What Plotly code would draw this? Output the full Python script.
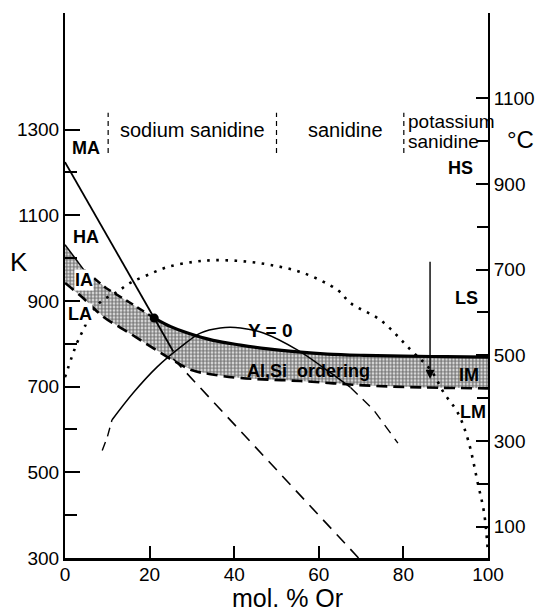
import plotly.graph_objects as go

# ---------------- data ----------------
# upper boundary of Al,Si ordering band (mol.% Or, K)
UPPER_X = [0, 4.5, 9.7, 15.2, 21.1, 25.0, 29.0, 35.0, 41.5, 48.0, 55.0, 62.0, 70.6, 80.0, 90.0, 100.0]
UPPER_K = [1031, 972, 930, 897, 860, 840, 825, 808, 797, 788, 781, 776, 773, 771, 770, 769]
# lower boundary (LA / LM dashed)
LOWER_X = [0, 4.0, 9.2, 14.9, 19.7, 25.4, 30.1, 34.4, 41.5, 55.7, 70.6, 85.0, 100.0]
LOWER_K = [942, 909, 862, 827, 797, 762, 738, 729, 720, 713, 703, 698, 696]
# MA / HA inversion line
MA_X = [0, 25.6]
MA_K = [1224, 782]
# dashed continuation of the inversion
INV_X = [25.6, 69.4]
INV_K = [765, 300]
# triple point
DOT_X = [21.1]
DOT_K = [860]
# dotted solvus
SOLVUS_X = [0, 2.8, 4.3, 6.6, 9.0, 12.3, 15.4, 19.4, 24.2, 30.3, 35.1, 41.5, 48.6, 56.4,
            64.5, 67.5, 74.6, 81.8, 86.5, 89.6, 92.9, 95.3, 97.6, 99.1, 100.0]
SOLVUS_K = [722, 801, 832, 879, 902, 921, 942, 960, 979, 991, 995, 993, 984, 965,
            925, 895, 855, 785, 738, 685, 638, 575, 474, 404, 311]
# thin solvus curve (gamma = 0)
GAMMA_X = [8.8, 10.0, 11.1, 16.1, 21.8, 27.3, 32.0, 36.7, 41.5, 46.9, 55.0, 62.8, 67.5, 73.0, 78.7]
GAMMA_K = [551, 582, 622, 685, 746, 792, 825, 837, 837, 825, 785, 732, 698, 645, 568]
# vertical arrow
ARROW_X = 86.3
ARROW_FROM_K = 995
ARROW_TO_K = 718
# field separators at top
SEP_X = [10.2, 50.0, 80.1]
SEP_K = [1245, 1339]
# ticks
K_TICKS = [300, 500, 700, 900, 1100, 1300]
K_MINOR = [400, 600, 800, 1000, 1200]
C_TICKS = [100, 300, 500, 700, 900, 1100]
C_MINOR = [200, 400, 600, 800, 1000]
X_TICKS = [0, 20, 40, 60, 80, 100]

K_RANGE = [300, 1572]
OFFSET = 273.15

BOLD = "Liberation Sans, Arial, Helvetica"
REG = "Liberation Sans, Arial, Helvetica"

fig = go.Figure()

# stippled band
band_x = UPPER_X + LOWER_X[::-1]
band_y = UPPER_K + LOWER_K[::-1]
fig.add_trace(go.Scatter(x=band_x, y=band_y, mode="lines", fill="toself",
                         line=dict(width=0, color="rgba(0,0,0,0)"),
                         fillcolor="white",
                         fillpattern=dict(shape=".", size=3.5, solidity=0.7,
                                          fgcolor="black", bgcolor="white"),
                         hoverinfo="skip"))

# upper boundary pieces
i1 = UPPER_X.index(4.5)
i2 = UPPER_X.index(21.1)
fig.add_trace(go.Scatter(x=UPPER_X[:i1 + 1], y=UPPER_K[:i1 + 1], mode="lines",
                         line=dict(color="black", width=1.5)))
fig.add_trace(go.Scatter(x=UPPER_X[i1:i2 + 1], y=UPPER_K[i1:i2 + 1], mode="lines",
                         line=dict(color="black", width=2.5, dash="8px,5px")))
fig.add_trace(go.Scatter(x=UPPER_X[i2:], y=UPPER_K[i2:], mode="lines",
                         line=dict(color="black", width=3.2, shape="spline")))
# lower boundary
fig.add_trace(go.Scatter(x=LOWER_X, y=LOWER_K, mode="lines",
                         line=dict(color="black", width=2.6, dash="11px,6px", shape="spline")))
# inversion lines
fig.add_trace(go.Scatter(x=MA_X, y=MA_K, mode="lines", line=dict(color="black", width=1.8)))
fig.add_trace(go.Scatter(x=INV_X, y=INV_K, mode="lines",
                         line=dict(color="black", width=1.6, dash="12px,8px")))
# solvus dotted
fig.add_trace(go.Scatter(x=SOLVUS_X, y=SOLVUS_K, mode="lines",
                         line=dict(color="black", width=2.6, dash="2.6px,6.5px", shape="spline")))
# gamma curve
g1 = GAMMA_X.index(11.1)
g2 = GAMMA_X.index(67.5)
fig.add_trace(go.Scatter(x=GAMMA_X[:g1 + 1], y=GAMMA_K[:g1 + 1], mode="lines",
                         line=dict(color="black", width=1.4, dash="9px,6px")))
fig.add_trace(go.Scatter(x=GAMMA_X[g1:g2 + 1], y=GAMMA_K[g1:g2 + 1], mode="lines",
                         line=dict(color="black", width=1.5, shape="spline")))
fig.add_trace(go.Scatter(x=GAMMA_X[g2:], y=GAMMA_K[g2:], mode="lines",
                         line=dict(color="black", width=1.4, dash="10px,7px")))
# triple point
fig.add_trace(go.Scatter(x=DOT_X, y=DOT_K, mode="markers",
                         marker=dict(color="black", size=9)))
# separators
sx, sy = [], []
for v in SEP_X:
    sx += [v, v, None]
    sy += [SEP_K[0], SEP_K[1], None]
fig.add_trace(go.Scatter(x=sx, y=sy, mode="lines",
                         line=dict(color="black", width=1.2, dash="5px,4px")))
# dummy for secondary axis
fig.add_trace(go.Scatter(x=[None], y=[None], yaxis="y2", mode="lines"))

ann = []
def lab(x, y, t, size=18, family=BOLD, bold=True, bg=None, xanchor="center"):
    d = dict(x=x, y=y, xref="x", yref="y", text=("<b>%s</b>" % t) if bold else t,
             showarrow=False, xanchor=xanchor, yanchor="middle",
             font=dict(family=family, size=size, color="black"))
    if bg:
        d["bgcolor"] = bg
        d["borderpad"] = 0
    ann.append(d)

lab(4.9, 1257, "MA")
lab(4.9, 1049, "HA")
lab(4.5, 949, "IA", bg="white")
lab(3.6, 869, "LA", bg="white")
lab(93.4, 1210, "HS")
lab(94.8, 906, "LS")
lab(95.6, 727, "IM")
lab(96.4, 640, "LM")
lab(57.5, 736, "Al,Si&nbsp;&nbsp;ordering", size=18)
lab(48.6, 830, "Y = 0", size=19)

lab(30.1, 1299, "sodium sanidine", size=20, family=REG, bold=False)
lab(66.4, 1299, "sanidine", size=20, family=REG, bold=False)
lab(80.7, 1318, "potassium", size=19, family=REG, bold=False, xanchor="left")
lab(80.7, 1271, "sanidine", size=19, family=REG, bold=False, xanchor="left")

ann.append(dict(x=ARROW_X, y=ARROW_TO_K, ax=ARROW_X, ay=ARROW_FROM_K, xref="x", yref="y",
                axref="x", ayref="y", showarrow=True, arrowhead=2, arrowsize=1.3,
                arrowwidth=1.4, arrowcolor="black", text=""))

ann.append(dict(x=-0.109, y=0.543, xref="paper", yref="paper", text="K", showarrow=False,
                xanchor="center", yanchor="middle",
                font=dict(family=REG, size=26, color="black")))
ann.append(dict(x=1.078, y=0.767, xref="paper", yref="paper", text="°C", showarrow=False,
                xanchor="center", yanchor="middle",
                font=dict(family=REG, size=24, color="black")))
ann.append(dict(x=0.527, y=-0.073, xref="paper", yref="paper", text="mol. % Or",
                showarrow=False, xanchor="center", yanchor="middle",
                font=dict(family=REG, size=25, color="black")))

fig.update_layout(
    width=536, height=613, margin=dict(l=65, r=48, t=13, b=55, autoexpand=False),
    paper_bgcolor="white", plot_bgcolor="white", showlegend=False,
    annotations=ann,
    xaxis=dict(range=[0, 100], tickvals=X_TICKS, ticks="inside", ticklen=12, tickwidth=2,
               tickcolor="black", showline=True, linewidth=2.5, linecolor="black",
               showgrid=False, zeroline=False, automargin=False, ticklabelstandoff=-3,
               tickfont=dict(family=REG, size=19, color="black")),
    yaxis=dict(range=K_RANGE, tickvals=K_TICKS, ticks="inside", ticklen=15, tickwidth=2,
               tickcolor="black", showline=True, linewidth=2, linecolor="black",
               showgrid=False, zeroline=False, automargin=False,
               minor=dict(tickvals=K_MINOR, ticks="inside", ticklen=12, tickwidth=2,
                          tickcolor="black", showgrid=False),
               tickfont=dict(family=REG, size=19, color="black")),
    yaxis2=dict(range=[K_RANGE[0] - OFFSET, K_RANGE[1] - OFFSET], overlaying="y", side="right",
                tickvals=C_TICKS, ticks="inside", ticklen=12, tickwidth=2, tickcolor="black",
                showline=True, linewidth=2, linecolor="black", showgrid=False, zeroline=False,
                automargin=False,
                minor=dict(tickvals=C_MINOR, ticks="inside", ticklen=11, tickwidth=2,
                           tickcolor="black", showgrid=False),
                tickfont=dict(family=REG, size=19, color="black")),
)

# remove the default 8px page margin so the 536x613 figure fills the window exactly
fig.write_html("out.html", config={"displayModeBar": False},
               post_script="document.body.style.margin='0';document.body.style.overflow='hidden';")
